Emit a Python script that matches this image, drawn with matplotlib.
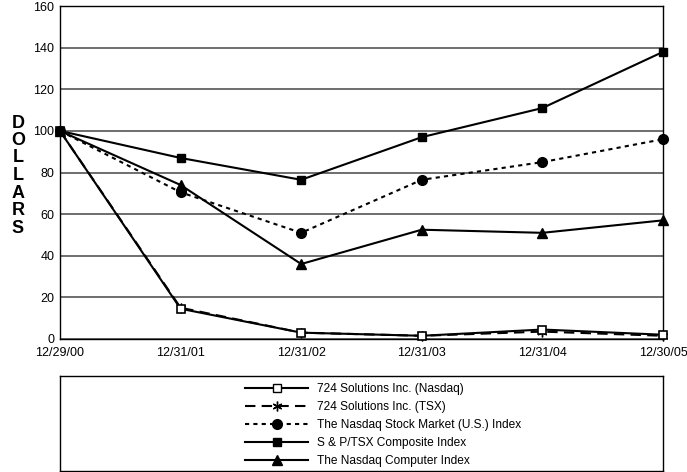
import matplotlib.pyplot as plt
from matplotlib.lines import Line2D

plt.rcParams['font.family'] = ['Liberation Sans', 'DejaVu Sans']

dates = ['12/29/00', '12/31/01', '12/31/02', '12/31/03', '12/31/04', '12/30/05']
sol_nasdaq = [100, 14.5, 3, 1.5, 4.5, 2]
sol_tsx = [100, 15, 3, 1.5, 3.5, 1.5]
nasdaq_market = [100, 70.5, 51, 76.5, 85, 96]
sp_tsx = [100, 87, 76.5, 97, 111, 138]
nasdaq_computer = [100, 74, 36, 52.5, 51, 57]

fig = plt.figure(figsize=(6.87, 4.72), dpi=100)
ax = fig.add_axes([0.0873, 0.282, 0.8777, 0.705])
xs = range(len(dates))

# gridlines
ax.set_ylim(0, 160)
ax.set_xlim(0, len(dates) - 1)
ax.set_yticks(range(0, 161, 20))
ax.yaxis.grid(True, color='#555555', linewidth=1.2)
ax.set_axisbelow(True)

ax.plot(xs, sol_tsx, color='black', linestyle=(0, (5, 3)), linewidth=1.5,
        marker=(6, 2, 0), markersize=7, clip_on=False, zorder=3)
ax.plot(xs, sol_nasdaq, color='black', linewidth=1.5, marker='s', markersize=6,
        markerfacecolor='white', markeredgewidth=1.2, clip_on=False, zorder=3)
ax.plot(xs, nasdaq_market, color='black', linestyle=(0, (2, 2)), linewidth=1.5,
        marker='o', markersize=7, clip_on=False, zorder=3)
ax.plot(xs, sp_tsx, color='black', linewidth=1.5, marker='s', markersize=6,
        clip_on=False, zorder=3)
ax.plot(xs, nasdaq_computer, color='black', linewidth=1.5, marker='^', markersize=7,
        clip_on=False, zorder=3)

ax.set_xticks(list(xs))
ax.set_xticklabels(dates)
ax.tick_params(length=0, labelsize=9, pad=4)
ax.tick_params(axis='x', pad=6)
for s in ax.spines.values():
    s.set_color('black')
    s.set_linewidth(1.0)

# stacked y label
for i, ch in enumerate('DOLLARS'):
    fig.text(18 / 687, 1 - (123 + i * 17.5) / 472, ch, fontsize=13, fontweight='bold',
             ha='center', va='center')

# legend box
lax = fig.add_axes([0.0873, 0.003, 0.8777, 0.200])
lax.set_xticks([])
lax.set_yticks([])
for s in lax.spines.values():
    s.set_color('black')
    s.set_linewidth(1.0)

handles = [
    Line2D([], [], color='black', linewidth=1.5, marker='s', markersize=5.5,
           markerfacecolor='white'),
    Line2D([], [], color='black', linewidth=1.5, linestyle=(0, (5, 3)), marker=(6, 2, 0),
           markersize=7),
    Line2D([], [], color='black', linewidth=1.5, linestyle=(0, (2, 2)), marker='o',
           markersize=7),
    Line2D([], [], color='black', linewidth=1.5, marker='s', markersize=5.5),
    Line2D([], [], color='black', linewidth=1.5, marker='^', markersize=7),
]
labels = ['724 Solutions Inc. (Nasdaq)', '724 Solutions Inc. (TSX)',
          'The Nasdaq Stock Market (U.S.) Index', 'S & P/TSX Composite Index',
          'The Nasdaq Computer Index']
lax.legend(handles, labels, loc='upper left', bbox_to_anchor=(0.307, 0.93), frameon=False,
           fontsize=8.6, handlelength=5.3, labelspacing=0.5, handletextpad=0.75,
           borderpad=0, borderaxespad=0)

fig.savefig('out.png', dpi=100)
